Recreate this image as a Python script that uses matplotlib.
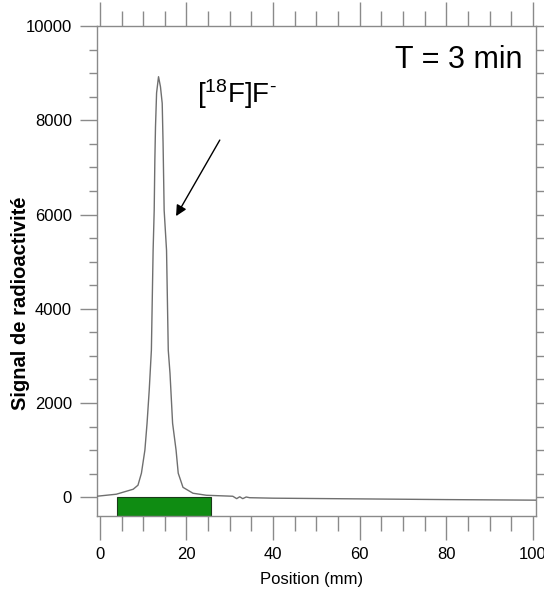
import matplotlib
matplotlib.use("Agg")
import matplotlib.pyplot as plt
from matplotlib import font_manager
from matplotlib.ticker import MultipleLocator

# ---- data ----
position_mm = [-0.7, 3.8, 7.7, 8.8, 9.6, 10.4, 10.9, 11.4, 11.9, 12.3, 12.55, 12.7,
               12.85, 13.1, 13.55, 14.0, 14.4, 14.6, 14.85, 15.4, 15.8, 16.2, 16.8,
               17.6, 18.1, 19.2, 21.5, 24.6, 30.7, 31.6, 32.3, 33.0, 33.8, 34.6,
               40, 60, 80, 100.7]
signal = [21, 64, 170, 255, 510, 1000, 1570, 2270, 3120, 5240, 6090, 7150,
          7860, 8580, 8925, 8710, 8360, 7510, 6090, 5240, 3120, 2630, 1570,
          1000, 510, 210, 85, 42, 21, -30, 10, -30, 5, -10,
          -20, -35, -50, -62]
roi_start, roi_end = 4.0, 25.7          # green region (mm)
peak_label = r'[$^{18}$F]F$^{\text{-}}$'
time_label = 'T = 3 min'
x_major = [0, 20, 40, 60, 80, 100]
y_major = [0, 2000, 4000, 6000, 8000, 10000]

plt.rcParams['mathtext.fontset'] = 'custom'
plt.rcParams['mathtext.rm'] = 'Liberation Sans'
plt.rcParams['mathtext.it'] = 'Liberation Sans'

sans = ['Liberation Sans', 'DejaVu Sans']
try:
    font_manager.findfont(font_manager.FontProperties(family='Liberation Sans Narrow'),
                          fallback_to_default=False)
    narrow = ['Liberation Sans Narrow', 'Liberation Sans']
    tick_fs, xlab_fs = 13, 14
except Exception:
    narrow = sans
    tick_fs, xlab_fs = 12, 12

fig = plt.figure(figsize=(5.44, 5.92), dpi=100)
ax = fig.add_axes([0.178, 0.128, 0.807, 0.828])
ax.set_xlim(-0.7, 100.7)
ax.set_ylim(-403, 10000)

ax.plot(position_mm, signal, color='#6f6f6f', lw=1.0, zorder=3)
ax.axvspan(roi_start, roi_end, ymin=0, ymax=403 / 10403, facecolor='#0f8c12',
           edgecolor='#1a3a1a', lw=0.8, zorder=2)

gray = '#8a8a8a'
for s in ax.spines.values():
    s.set_color(gray)
    s.set_linewidth(1.0)
ax.set_xticks(x_major)
ax.xaxis.set_minor_locator(MultipleLocator(5))
ax.set_yticks(y_major)
ax.yaxis.set_minor_locator(MultipleLocator(500))
ax.tick_params(axis='x', which='major', direction='out', length=17, width=1.0,
               color=gray, top=True, bottom=True, pad=5, labelsize=tick_fs)
ax.tick_params(axis='x', which='minor', direction='out', length=11, width=1.0,
               color=gray, top=True, bottom=True)
ax.tick_params(axis='y', which='major', direction='out', length=12, width=1.0,
               color=gray, left=True, right=True, pad=6, labelsize=tick_fs)
ax.tick_params(axis='y', which='minor', direction='out', length=6, width=1.0,
               color=gray, left=True, right=True)
for lab in ax.get_xticklabels() + ax.get_yticklabels():
    lab.set_fontfamily(narrow)

ax.set_xlabel('Position (mm)', fontsize=xlab_fs, family=narrow)
ax.xaxis.set_label_coords(0.49, -0.114)
ax.set_ylabel('Signal de radioactivité', fontsize=14.5, fontweight='bold', family=sans)
ax.yaxis.set_label_coords(-0.152, 0.435)

ax.text(68.1, 9108, time_label, fontsize=22, family=sans, ha='left', va='baseline')
ax.text(22.4, 8365, peak_label, fontsize=20, family=sans, ha='left', va='baseline')
ax.annotate('', xy=(17.6, 5966), xytext=(27.7, 7580),
            arrowprops=dict(arrowstyle='-|>', color='black', lw=1.0,
                            mutation_scale=16, shrinkA=0, shrinkB=0))

fig.savefig('out.png', dpi=100, facecolor='white')
